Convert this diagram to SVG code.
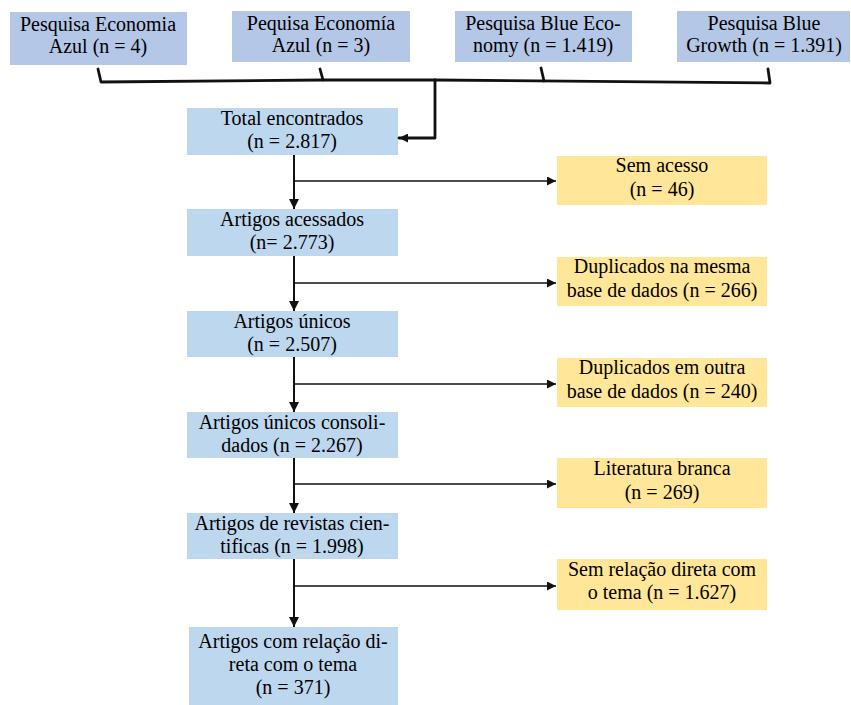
<svg xmlns="http://www.w3.org/2000/svg" width="851" height="705" viewBox="0 0 851 705">
<defs>
<marker id="ah" viewBox="0 0 10 10" refX="10" refY="5" markerWidth="10" markerHeight="10" markerUnits="userSpaceOnUse" orient="auto">
<path d="M0,0 L10,5 L0,10 z" fill="#111"/>
</marker>
<marker id="ahs" viewBox="0 0 10 10" refX="10" refY="5" markerWidth="11" markerHeight="9" markerUnits="userSpaceOnUse" orient="auto">
<path d="M0,0 L10,5 L0,10 z" fill="#111"/>
</marker>
</defs>
<rect width="851" height="705" fill="#fff"/>
<g id="src1"><rect fill="#b4c7e7" x="10" y="12" width="177" height="53"/><text font-family="Liberation Serif" font-size="20" text-anchor="middle" x="98" y="31">Pesquisa Economia</text><text font-family="Liberation Serif" font-size="20" text-anchor="middle" x="98" y="53">Azul (n = 4)</text></g>
<g id="src2"><rect fill="#b4c7e7" x="232" y="11" width="178" height="51"/><text font-family="Liberation Serif" font-size="20" text-anchor="middle" x="321" y="30">Pequisa Economía</text><text font-family="Liberation Serif" font-size="20" text-anchor="middle" x="321" y="52">Azul (n = 3)</text></g>
<g id="src3"><rect fill="#b4c7e7" x="455" y="11" width="177" height="51"/><text font-family="Liberation Serif" font-size="20" text-anchor="middle" x="543" y="30">Pesquisa Blue Eco-</text><text font-family="Liberation Serif" font-size="20" text-anchor="middle" x="543" y="52">nomy (n = 1.419)</text></g>
<g id="src4"><rect fill="#b4c7e7" x="677" y="11" width="173" height="51"/><text font-family="Liberation Serif" font-size="20" text-anchor="middle" x="764" y="30">Pesquisa Blue</text><text font-family="Liberation Serif" font-size="20" text-anchor="middle" x="764" y="52">Growth (n = 1.391)</text></g>

<g id="total"><rect fill="#bdd7ee" x="187" y="108" width="211" height="47"/><text font-family="Liberation Serif" font-size="20" text-anchor="middle" x="292" y="125">Total encontrados</text><text font-family="Liberation Serif" font-size="20" text-anchor="middle" x="292" y="148">(n = 2.817)</text></g>
<g id="acessados"><rect fill="#bdd7ee" x="187" y="209" width="211" height="47"/><text font-family="Liberation Serif" font-size="20" text-anchor="middle" x="292" y="226">Artigos acessados</text><text font-family="Liberation Serif" font-size="20" text-anchor="middle" x="292" y="249">(n= 2.773)</text></g>
<g id="unicos"><rect fill="#bdd7ee" x="187" y="311" width="211" height="46"/><text font-family="Liberation Serif" font-size="20" text-anchor="middle" x="292" y="328">Artigos únicos</text><text font-family="Liberation Serif" font-size="20" text-anchor="middle" x="292" y="351">(n = 2.507)</text></g>
<g id="consolidados"><rect fill="#bdd7ee" x="187" y="412" width="211" height="46"/><text font-family="Liberation Serif" font-size="20" text-anchor="middle" x="292" y="429">Artigos únicos  consoli-</text><text font-family="Liberation Serif" font-size="20" text-anchor="middle" x="292" y="452">dados (n = 2.267)</text></g>
<g id="revistas"><rect fill="#bdd7ee" x="187" y="513" width="211" height="46"/><text font-family="Liberation Serif" font-size="20" text-anchor="middle" x="292" y="530">Artigos de revistas  cien-</text><text font-family="Liberation Serif" font-size="20" text-anchor="middle" x="292" y="553">tificas  (n = 1.998)</text></g>
<g id="final"><rect fill="#bdd7ee" x="189" y="627" width="209" height="78"/><text font-family="Liberation Serif" font-size="20" text-anchor="middle" x="293" y="648">Artigos com relação  di-</text><text font-family="Liberation Serif" font-size="20" text-anchor="middle" x="293" y="671">reta com o tema</text><text font-family="Liberation Serif" font-size="20" text-anchor="middle" x="293" y="694">(n = 371)</text></g>

<g id="semacesso"><rect fill="#ffe699" x="557" y="156" width="210" height="49"/><text font-family="Liberation Serif" font-size="20" text-anchor="middle" x="662" y="172">Sem acesso</text><text font-family="Liberation Serif" font-size="20" text-anchor="middle" x="662" y="196">(n = 46)</text></g>
<g id="dupmesma"><rect fill="#ffe699" x="557" y="257" width="210" height="49"/><text font-family="Liberation Serif" font-size="20" text-anchor="middle" x="662" y="273">Duplicados na mesma</text><text font-family="Liberation Serif" font-size="20" text-anchor="middle" x="662" y="297">base de dados (n = 266)</text></g>
<g id="dupoutra"><rect fill="#ffe699" x="557" y="358" width="210" height="49"/><text font-family="Liberation Serif" font-size="20" text-anchor="middle" x="662" y="374">Duplicados em outra</text><text font-family="Liberation Serif" font-size="20" text-anchor="middle" x="662" y="398">base de dados (n = 240)</text></g>
<g id="literatura"><rect fill="#ffe699" x="557" y="458" width="210" height="50"/><text font-family="Liberation Serif" font-size="20" text-anchor="middle" x="662" y="475">Literatura  branca</text><text font-family="Liberation Serif" font-size="20" text-anchor="middle" x="662" y="499">(n = 269)</text></g>
<g id="semrelacao"><rect fill="#ffe699" x="557" y="559" width="210" height="51"/><text font-family="Liberation Serif" font-size="20" text-anchor="middle" x="662" y="576">Sem relação  direta com</text><text font-family="Liberation Serif" font-size="20" text-anchor="middle" x="662" y="599">o tema (n = 1.627)</text></g>

<g id="connectors" fill="none" stroke="#111">
<g stroke-width="2.8" stroke-linecap="round" stroke-linejoin="round">
<path d="M98,69 L101,82 L322,80 L435,80 L770,83 L768,69"/>
<path d="M320,69 L323,80"/>
<path d="M541,68 L544,81"/>
<path d="M435,80 L435,138 L399,138" marker-end="url(#ahs)"/>
</g>
<g stroke-width="2">
<path d="M294,155 V209" marker-end="url(#ah)"/>
<path d="M294,256 V311" marker-end="url(#ah)"/>
<path d="M294,357 V412" marker-end="url(#ah)"/>
<path d="M294,458 V513" marker-end="url(#ah)"/>
<path d="M294,559 V627" marker-end="url(#ah)"/>
</g>
<g stroke-width="1.6">
<path d="M294,181 H556" marker-end="url(#ahs)"/>
<path d="M294,283 H556" marker-end="url(#ahs)"/>
<path d="M294,384 H556" marker-end="url(#ahs)"/>
<path d="M294,484 H556" marker-end="url(#ahs)"/>
<path d="M294,586 H556" marker-end="url(#ahs)"/>
</g>
</g>
</svg>
